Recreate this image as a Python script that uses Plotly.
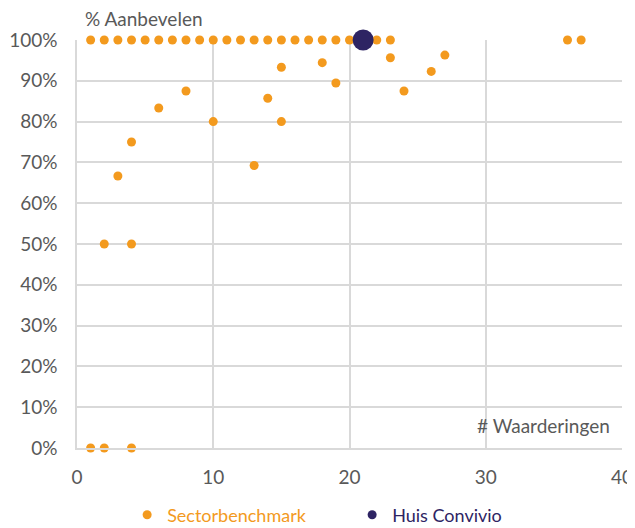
import plotly.graph_objects as go

# Sectorbenchmark data: (# Waarderingen, % Aanbevelen)
bench_x = list(range(1, 24)) + [36, 37,
           23, 27, 26, 24, 15, 18, 19, 8, 6, 4, 3, 10, 14, 15, 13,
           2, 4, 1, 2, 4]
bench_y = [100] * 23 + [100, 100,
           95.65, 96.3, 92.3, 87.5, 93.33, 94.44, 89.47, 87.5, 83.33, 75, 66.67, 80, 85.71, 80, 69.23,
           50, 50, 0, 0, 0]

huis_x = [21]
huis_y = [100]

orange = "#F39A1E"
navy = "#2E2463"
grey = "#595959"
grid = "#D9D9D9"
font = "Lato, Open Sans, sans-serif"
fs = 19

fig = go.Figure()
fig.add_trace(go.Scatter(x=bench_x, y=bench_y, mode="markers",
                         marker=dict(color=orange, size=9), cliponaxis=False,
                         showlegend=False))
fig.add_trace(go.Scatter(x=huis_x, y=huis_y, mode="markers",
                         marker=dict(color=navy, size=21), cliponaxis=False,
                         showlegend=False))
fig.add_trace(go.Scatter(x=[None], y=[None], mode="markers",
                         marker=dict(color=orange, size=9),
                         name=f"<span style='color:{orange}'>Sectorbenchmark</span>"))
fig.add_trace(go.Scatter(x=[None], y=[None], mode="markers",
                         marker=dict(color=navy, size=9),
                         name=f"<span style='color:{navy}'>Huis Convivio</span>"))

fig.update_layout(
    width=627, height=520,
    margin=dict(l=69, r=13, t=32, b=80, autoexpand=False),
    paper_bgcolor="white", plot_bgcolor="white",
    font=dict(family=font, size=fs, color=grey),
    xaxis=dict(range=[0, 40], dtick=10, showgrid=True, gridcolor=grid, gridwidth=1.5,
               zeroline=False, showline=True, linecolor=grid, linewidth=1.5,
               ticks="", ticklabelstandoff=11, tickfont=dict(size=fs, color=grey)),
    yaxis=dict(range=[0, 100], dtick=10, ticksuffix="%", showgrid=True, gridcolor=grid, gridwidth=1.5,
               zeroline=False, showline=True, linecolor=grid, linewidth=1.5,
               ticks="", ticklabelstandoff=14, tickfont=dict(size=fs, color=grey)),
    legend=dict(orientation="h", x=0.092, xanchor="left", yref="container", y=0.025, yanchor="middle",
                font=dict(size=18), entrywidth=180, bgcolor="rgba(0,0,0,0)"),
    annotations=[
        dict(text="% Aanbevelen", xref="paper", yref="paper", x=0.011, y=1.0, yshift=22,
             xanchor="left", yanchor="middle", showarrow=False, font=dict(size=fs, color=grey)),
        dict(text="# Waarderingen", xref="paper", yref="paper", x=0.982, y=0.056,
             xanchor="right", yanchor="middle", showarrow=False, font=dict(size=fs, color=grey)),
    ],
)
fig.write_html("out.html")
